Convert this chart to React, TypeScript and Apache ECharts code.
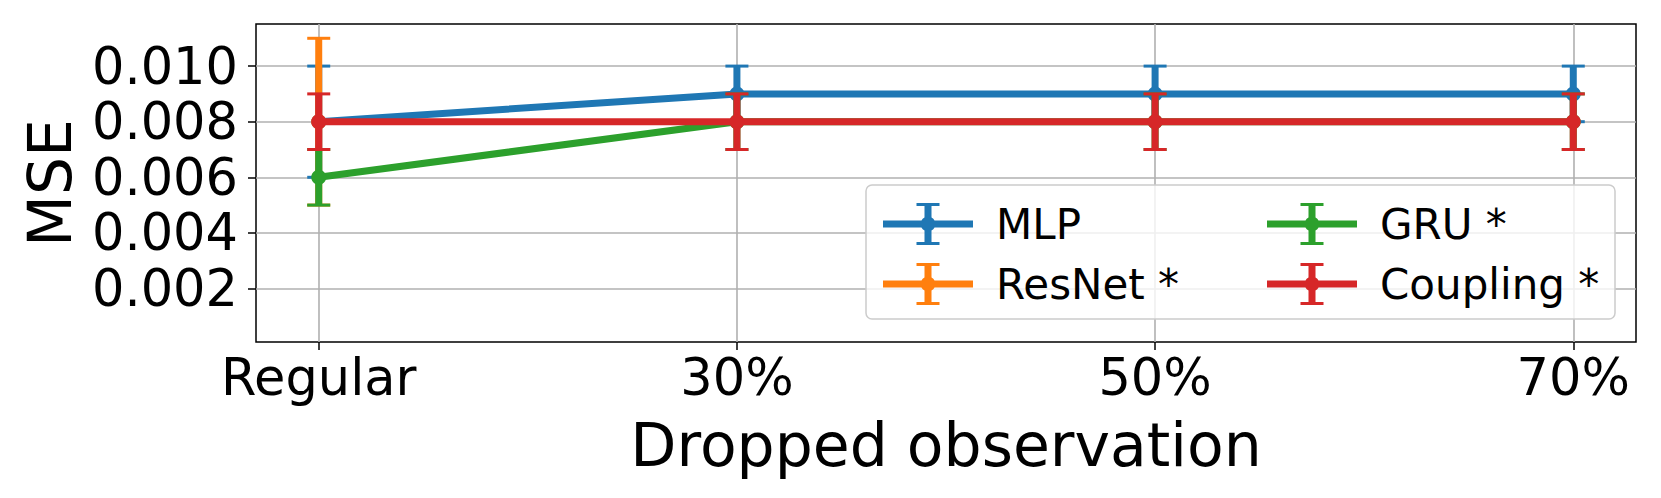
import React, { useEffect, useRef } from "react";
import * as echarts from "echarts";

const categories = ["Regular", "30%", "50%", "70%"];
const yTicks = [0.002, 0.004, 0.006, 0.008, 0.01];

const seriesNames = ["MLP", "ResNet *", "GRU *", "Coupling *"];
const seriesColors = ["#1f77b4", "#ff7f0e", "#2ca02c", "#d62728"];

const mlpMean = [0.008, 0.009, 0.009, 0.009];
const mlpErr = [0.002, 0.001, 0.001, 0.001];
const resnetMean = [0.008, null, null, null];
const resnetErr = [0.003, null, null, null];
const gruMean = [0.006, 0.008, 0.008, 0.008];
const gruErr = [0.001, 0.001, 0.001, 0.001];
const couplingMean = [0.008, 0.008, 0.008, 0.008];
const couplingErr = [0.001, 0.001, 0.001, 0.001];

const means = [mlpMean, resnetMean, gruMean, couplingMean];
const errs = [mlpErr, resnetErr, gruErr, couplingErr];

const FONT = "DejaVu Sans";

// legend icon: line + errorbar + marker, drawn in a 90 x 42 box
const legendIcon =
  "path://M0 17.5H90V24.5H0Z" +
  "M41.5 1.5H48.5V40.5H41.5Z" +
  "M33.5 0H56.5V3H33.5Z" +
  "M33.5 39H56.5V42H33.5Z" +
  "M52.5 21A7.5 7.5 0 1 1 37.5 21A7.5 7.5 0 1 1 52.5 21Z";

function makeErrRender(color: string) {
  return (params: any, api: any) => {
    const x = api.value(0);
    const y = api.value(1);
    const e = api.value(2);
    const top = api.coord([x, y + e]);
    const bot = api.coord([x, y - e]);
    const half = 11.5;
    return {
      type: "group",
      children: [
        {
          type: "line",
          shape: { x1: top[0], y1: top[1], x2: bot[0], y2: bot[1] },
          style: { stroke: color, lineWidth: 7 },
        },
        {
          type: "line",
          shape: { x1: top[0] - half, y1: top[1], x2: top[0] + half, y2: top[1] },
          style: { stroke: color, lineWidth: 3 },
        },
        {
          type: "line",
          shape: { x1: bot[0] - half, y1: bot[1], x2: bot[0] + half, y2: bot[1] },
          style: { stroke: color, lineWidth: 3 },
        },
      ],
    };
  };
}

export default function App() {
  const ref = useRef<HTMLDivElement>(null);

  useEffect(() => {
    if (!ref.current) return;
    const chart = echarts.init(ref.current, undefined, { renderer: "svg" });

    const series: any[] = [];
    seriesNames.forEach((name, s) => {
      const color = seriesColors[s];
      const pts: any[] = [];
      const errPts: any[] = [];
      means[s].forEach((m, i) => {
        if (m === null || m === undefined) return;
        pts.push([i, m]);
        errPts.push([i, m, errs[s][i]]);
      });
      series.push({
        type: "custom",
        name,
        z: 2 + s,
        renderItem: makeErrRender(color),
        encode: { x: 0, y: 1 },
        itemStyle: { color },
        data: errPts,
        silent: true,
      });
      series.push({
        type: "line",
        name,
        z: 2 + s,
        data: pts,
        symbol: "circle",
        symbolSize: 15,
        showSymbol: true,
        itemStyle: { color },
        lineStyle: { color, width: 7 },
        emphasis: { disabled: true },
        silent: true,
      });
    });

    const legendItem = (i: number) => ({
      name: seriesNames[i],
      icon: legendIcon,
      itemStyle: { color: seriesColors[i] },
    });

    const legendCommon = {
      orient: "vertical",
      top: 198,
      itemWidth: 90,
      itemHeight: 42,
      itemGap: 18,
      z: 10,
      selectedMode: false,
      textStyle: {
        fontFamily: FONT,
        fontSize: 42,
        color: "#000",
        padding: [0, 0, 0, 18],
      },
    };

    chart.setOption({
      animation: false,
      backgroundColor: "#fff",
      grid: {
        left: 256,
        right: 25,
        top: 24,
        bottom: 156,
        show: true,
        borderColor: "#000",
        borderWidth: 1.5,
        backgroundColor: "transparent",
      },
      xAxis: {
        type: "value",
        min: -0.15,
        max: 3.15,
        name: "Dropped observation",
        nameLocation: "middle",
        nameGap: 73,
        nameTextStyle: { fontFamily: FONT, fontSize: 60, color: "#000" },
        axisLine: { show: false, onZero: false },
        axisTick: {
          show: true,
          length: 8,
          customValues: [0, 1, 2, 3],
          lineStyle: { color: "#000", width: 1.5 },
        },
        axisLabel: {
          customValues: [0, 1, 2, 3],
          formatter: (v: number) => categories[Math.round(v)] ?? "",
          fontFamily: FONT,
          fontSize: 51,
          color: "#000",
          margin: 10,
        },
        splitLine: { show: true, lineStyle: { color: "#b0b0b0", width: 1.6 } },
      },
      yAxis: {
        type: "value",
        min: 0.0000758,
        max: 0.011514,
        name: "MSE",
        nameLocation: "middle",
        nameGap: 176,
        nameTextStyle: { fontFamily: FONT, fontSize: 60, color: "#000" },
        axisLine: { show: false, onZero: false },
        axisTick: {
          show: true,
          length: 8,
          customValues: yTicks,
          lineStyle: { color: "#000", width: 1.5 },
        },
        axisLabel: {
          customValues: yTicks,
          formatter: (v: number) => v.toFixed(3),
          fontFamily: FONT,
          fontSize: 51,
          color: "#000",
          margin: 18,
        },
        splitLine: { show: true, lineStyle: { color: "#b0b0b0", width: 1.6 } },
      },
      legend: [
        { ...legendCommon, left: 878, data: [legendItem(0), legendItem(1)] },
        { ...legendCommon, left: 1262, data: [legendItem(2), legendItem(3)] },
      ],
      graphic: [
        {
          type: "rect",
          z: 9,
          shape: { x: 866, y: 185, width: 749, height: 134, r: 6 },
          style: { fill: "rgba(255,255,255,0.8)", stroke: "#cccccc", lineWidth: 1.5 },
          silent: true,
        },
      ],
      series,
    });

    return () => chart.dispose();
  }, []);

  return (
    <div
      ref={ref}
      style={{ position: "fixed", left: 0, top: 0, width: 1661, height: 498 }}
    />
  );
}
